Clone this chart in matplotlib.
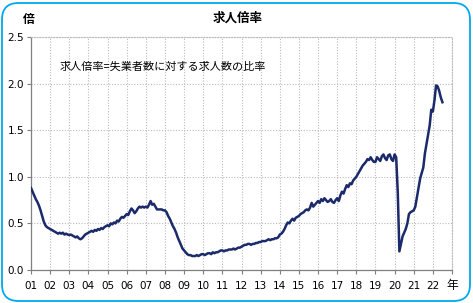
import matplotlib
matplotlib.use("Agg")
import matplotlib.pyplot as plt
from matplotlib.patches import FancyBboxPatch
import numpy as np

plt.rcParams['font.family'] = ['Noto Sans CJK JP', 'DejaVu Sans']

start_year = 2001
ratio_2001 = [0.88, 0.84, 0.80, 0.76, 0.73, 0.69, 0.64, 0.58, 0.52, 0.48, 0.46, 0.45]
ratio_2002 = [0.44, 0.43, 0.42, 0.41, 0.40, 0.39, 0.40, 0.39, 0.40, 0.38, 0.39, 0.38]
ratio_2003 = [0.375, 0.38, 0.37, 0.36, 0.35, 0.36, 0.34, 0.33, 0.34, 0.36, 0.38, 0.39]
ratio_2004 = [0.40, 0.41, 0.42, 0.41, 0.43, 0.42, 0.44, 0.43, 0.45, 0.44, 0.46, 0.47]
ratio_2005 = [0.48, 0.47, 0.50, 0.49, 0.51, 0.50, 0.53, 0.52, 0.55, 0.57, 0.56, 0.58]
ratio_2006 = [0.60, 0.59, 0.63, 0.66, 0.64, 0.61, 0.63, 0.66, 0.68, 0.67, 0.68, 0.67]
ratio_2007 = [0.68, 0.67, 0.70, 0.74, 0.70, 0.71, 0.68, 0.65, 0.65, 0.65, 0.65, 0.64]
ratio_2008 = [0.64, 0.62, 0.58, 0.55, 0.51, 0.47, 0.44, 0.40, 0.35, 0.31, 0.27, 0.23]
ratio_2009 = [0.21, 0.19, 0.17, 0.16, 0.16, 0.15, 0.15, 0.15, 0.16, 0.15, 0.16, 0.17]
ratio_2010 = [0.17, 0.16, 0.17, 0.18, 0.18, 0.17, 0.19, 0.18, 0.19, 0.19, 0.20, 0.21]
ratio_2011 = [0.21, 0.20, 0.21, 0.21, 0.22, 0.22, 0.22, 0.23, 0.22, 0.23, 0.24, 0.24]
ratio_2012 = [0.25, 0.26, 0.27, 0.27, 0.28, 0.28, 0.27, 0.28, 0.28, 0.29, 0.29, 0.30]
ratio_2013 = [0.30, 0.31, 0.31, 0.31, 0.32, 0.33, 0.32, 0.33, 0.33, 0.34, 0.34, 0.35]
ratio_2014 = [0.38, 0.39, 0.41, 0.44, 0.48, 0.51, 0.50, 0.53, 0.55, 0.53, 0.56, 0.57]
ratio_2015 = [0.58, 0.60, 0.61, 0.62, 0.64, 0.65, 0.64, 0.67, 0.72, 0.68, 0.70, 0.72]
ratio_2016 = [0.74, 0.72, 0.76, 0.74, 0.77, 0.75, 0.73, 0.74, 0.76, 0.73, 0.72, 0.75]
ratio_2017 = [0.77, 0.74, 0.80, 0.84, 0.82, 0.87, 0.91, 0.89, 0.93, 0.92, 0.96, 0.98]
ratio_2018 = [1.00, 1.03, 1.06, 1.09, 1.12, 1.14, 1.16, 1.19, 1.18, 1.21, 1.18, 1.16]
ratio_2019 = [1.16, 1.21, 1.19, 1.17, 1.22, 1.24, 1.20, 1.18, 1.23, 1.24, 1.19, 1.17]
ratio_2020 = [1.24, 1.21, 0.83, 0.20, 0.28, 0.36, 0.40, 0.44, 0.50, 0.60, 0.62, 0.63]
ratio_2021 = [0.64, 0.68, 0.78, 0.88, 0.98, 1.04, 1.10, 1.25, 1.35, 1.45, 1.55, 1.72]
ratio_2022 = [1.70, 1.82, 1.98, 1.97, 1.92, 1.85, 1.80]

values = (ratio_2001 + ratio_2002 + ratio_2003 + ratio_2004 + ratio_2005 + ratio_2006 +
          ratio_2007 + ratio_2008 + ratio_2009 + ratio_2010 + ratio_2011 + ratio_2012 +
          ratio_2013 + ratio_2014 + ratio_2015 + ratio_2016 + ratio_2017 + ratio_2018 +
          ratio_2019 + ratio_2020 + ratio_2021 + ratio_2022)
t = start_year + np.arange(len(values)) / 12.0

year_labels = ["01", "02", "03", "04", "05", "06", "07", "08", "09", "10", "11",
               "12", "13", "14", "15", "16", "17", "18", "19", "20", "21", "22"]
y_ticks = [0.0, 0.5, 1.0, 1.5, 2.0, 2.5]

fig = plt.figure(figsize=(4.73, 3.03), dpi=100)
ax = fig.add_axes([31/473, 1-270/303, (452-31)/473, (270-37)/303])

ax.plot(t, values, color='#1B2A6B', lw=1.8, solid_joinstyle='round', zorder=3)

ax.set_xlim(2001, 2023)
ax.set_ylim(0, 2.5)
ax.set_xticks([2001 + i for i in range(len(year_labels))] + [2023])
ax.set_xticklabels(year_labels + [""])
ax.set_yticks(y_ticks)
ax.set_yticklabels([f"{v:.1f}" for v in y_ticks])
ax.tick_params(axis='both', labelsize=7.5, length=3, width=0.8, color='#808080', pad=2)
ax.tick_params(axis='x', pad=5)
for lab in ax.get_xticklabels() + ax.get_yticklabels():
    lab.set_family('DejaVu Sans')

ax.grid(True, color='#BBBBBB', linestyle=(0, (1, 1.5)), lw=0.8)
for s in ['top', 'right']:
    ax.spines[s].set_color('#BBBBBB')
    ax.spines[s].set_linestyle((0, (1, 1.5)))
    ax.spines[s].set_linewidth(0.8)
for s in ['left', 'bottom']:
    ax.spines[s].set_color('#808080')
    ax.spines[s].set_linewidth(0.9)

fig.text(238/473, 1-18/303, "求人倍率", ha='center', va='center', fontsize=9, fontweight='bold')
fig.text(29/473, 1-20/303, "倍", ha='center', va='center', fontsize=8.5, fontweight='bold')
fig.text(452/473, 1-286/303, "年", ha='center', va='center', fontsize=8.5)
fig.text(60/473, 1-67/303, "求人倍率=失業者数に対する求人数の比率", ha='left', va='center', fontsize=8)

border = FancyBboxPatch((2/473, 2/303), 468/473, 298/303,
                        boxstyle="round,pad=0,rounding_size=0.035",
                        transform=fig.transFigure, fill=False,
                        edgecolor='#00A8EC', lw=1.3, mutation_aspect=473/303)
fig.patches.append(border)

fig.savefig("out.png", dpi=100)
